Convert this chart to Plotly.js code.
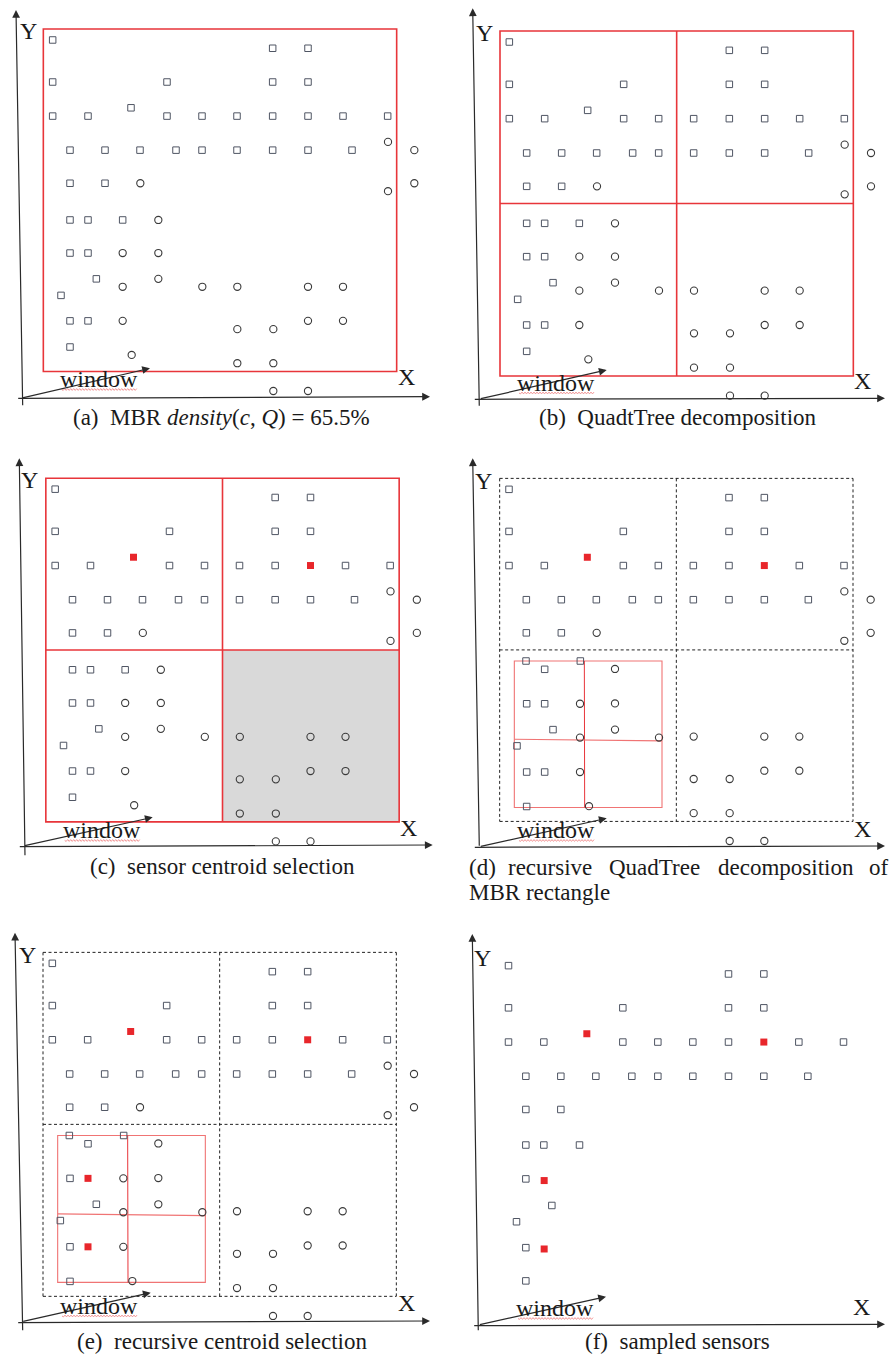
<!DOCTYPE html>
<html><head><meta charset="utf-8">
<script src="https://cdn.plot.ly/plotly-3.0.1.min.js"></script>
<style>html,body{margin:0;padding:0;background:#fff}#chart{width:895px;height:1355px}</style>
</head><body><div id="chart"></div>
<script>
// ---------- DATA (sensor positions, in a common frame) ----------
// squares of the upper half (shared by all panels)
const sqX = [178,178,521,413,178,284,521,626,230,335,440,548,626,230,335, 838,944,838,944,731,838,944,1049,1183,731,838,944,1076];
const sqY = [126,253,253,331,356,356,356,356,459,459,459,459,459,559,559, 151,151,253,253,356,356,356,356,356,459,459,459,459];
// circles of the upper half
const upCircX = [441,1184,1263,1263,1184];
const upCircY = [559,434,459,559,583];
// lower-left quadrant, layout used in (a)(b)(c)
const llSqX_A = [230,284,388,230,284,309,203,230,284,230];
const llSqY_A = [670,670,670,770,770,848,898,975,975,1054];
const llCircX_A = [495,388,495,495,388,627,388,415];
const llCircY_A = [670,770,770,848,872,872,975,1078];
// lower-left quadrant, layout used in (d)(e)
const llSqX_D = [229,285,392,231,285,310,202,231,285,231];
const llSqY_D = [644,669,644,773,773,851,900,979,979,1083];
const llCircX_D = [496,391,496,496,391,628,391,418];
const llCircY_D = [668,773,772,851,875,875,979,1082];
// lower-left quadrant, layout used in (f)
const llSqX_F = [230,284,391,230,284,308,202,230,284,230];
const llSqY_F = [666,666,666,768,768,848,897,975,975,1075];
// lower-right circles
const lrCircX = [732,944,1049,944,1049,732,840,732,840,840,944];
const lrCircY = [872,872,872,975,975,1000,1000,1103,1103,1187,1187];
// selected centroids
const topCentX = [413,944];
const topCentY = [331,356];
const llCentX = [285,285];
const llCentY = [773,979];

// ---------- LAYOUT CONFIG ----------
const W = 895, H = 1355;
const FONT = 'Liberation Serif';
const TXT = '#1a1a1a';
const MBR = {x0:150, x1:1210, y0:93, y1:1128, mx:680, my:610.5};
const SUB = {x0:194, x1:637, y0:644, y1:1086, mx:404, myL:880, myR:885};

const panels = [
 {offX:0, offY:0, h:430, dx:-20, ky:0.9925, dy:-5.1, ll:'A', circles:true, topC:false, llC:false, frame:'mbr',
  yAx:[22.7,406.7,16,10], xAx:[16.7,398.3,430,396.7], win:[21,398.3,150,368.3], yLab:[28,31], xLab:[406.7,377], winTxt:[98.7,379],
  cap:[221.5,417,'(a)\u2002MBR <i>density</i>(<i>c</i>, <i>Q</i>) = 65.5%']},
 {offX:450, offY:0, h:430, dx:0, ky:1, dy:0, ll:'A', circles:true, topC:false, llC:false, frame:'quad',
  yAx:[479.3,407.3,472.7,8.3], xAx:[473.3,399.3,885,398.3], win:[479.3,399,606.7,370], yLab:[484,33], xLab:[862.7,381], winTxt:[556,382.5],
  cap:[677.5,417,'(b)\u2002QuadtTree decomposition']},
 {offX:0, offY:450, h:430, dx:-12.5, ky:0.996, dy:-8, ll:'A', circles:true, topC:true, llC:false, frame:'quadGray',
  yAx:[25,856.7,19.3,458.3], xAx:[18.3,846.7,432.7,845], win:[23.3,846,152.7,817.3], yLab:[29,480], xLab:[408.7,828], winTxt:[101.7,830],
  cap:[222,866,'(c)\u2002sensor centroid selection']},
 {offX:450, offY:450, h:430, dx:-1, ky:0.9943, dy:-7.3, ll:'D', circles:true, topC:true, llC:false, frame:'sub',
  yAx:[479.3,847.3,472.7,458.3], xAx:[473.3,847.3,885,846], win:[479.3,846.7,606.7,818.3], yLab:[483,481.5], xLab:[862.7,828.5], winTxt:[556,830],
  cap:null},
 {offX:0, offY:920, h:435, dx:-21, ky:0.997, dy:4.4, ll:'D', circles:true, topC:true, llC:true, frame:'sub',
  yAx:[22.7,1331.7,15,932.7], xAx:[16.7,1322.7,430,1321], win:[21.7,1321.7,150.7,1292.7], yLab:[27,955], xLab:[406.7,1303], winTxt:[99,1305.5],
  cap:[222,1341.5,'(e)\u2002recursive centroid selection']},
 {offX:450, offY:920, h:435, dx:-2.5, ky:0.9965, dy:11.4, ll:'F', circles:false, topC:true, llC:true, frame:'none',
  yAx:[478.3,1331.7,472.3,934], xAx:[472.7,1325.7,885,1324.3], win:[478.3,1325,606,1296.7], yLab:[482,958], xLab:[861.7,1307], winTxt:[555,1308],
  cap:[677,1341.5,'(f)\u2002sampled sensors']}
];

const captionD = [[466.7,'(d)'],[506,'recursive'],[606.7,'QuadTree'],[716,'decomposition'],[866.7,'of']];

const SQ_COLOR = '#4f5563', CI_COLOR = '#3a3a3a', RED = '#e8262b', FRAME_RED = '#e8353a', SUB_RED = '#f07474';

// ---------- BUILD ----------
const traces = [], shapes = [], annotations = [];
const layout = {
  width: W, height: H, margin:{l:0,r:0,t:0,b:0}, paper_bgcolor:'#ffffff', plot_bgcolor:'rgba(0,0,0,0)',
  showlegend:false, hovermode:false, font:{family:FONT, color:TXT}
};

function notNear(xs, ys, cx, cy) {
  const ox = [], oy = [];
  for (let i = 0; i < xs.length; i++) {
    let near = false;
    for (let j = 0; j < cx.length; j++) if (Math.abs(xs[i]-cx[j]) < 8 && Math.abs(ys[i]-cy[j]) < 8) near = true;
    if (!near) { ox.push(xs[i]); oy.push(ys[i]); }
  }
  return [ox, oy];
}
const px = x => x / W, py = y => 1 - y / H;

function arrow(seg) {
  const [tx, ty, hx, hy] = seg;
  annotations.push({xref:'paper', yref:'paper', x:px(hx), y:py(hy), ax:tx-hx, ay:ty-hy, axref:'pixel', ayref:'pixel',
    text:'', showarrow:true, arrowhead:2, arrowsize:1.3, arrowwidth:1.2, arrowcolor:'#2a2a2a', standoff:0, startstandoff:0});
}
function label(x, y, text, size, anchor) {
  annotations.push({xref:'paper', yref:'paper', x:px(x), y:py(y), text:text, showarrow:false,
    xanchor:anchor || 'center', yanchor:'middle', font:{family:FONT, size:size, color:TXT}});
}

panels.forEach((p, i) => {
  const n = i + 1, xa = 'x' + (n > 1 ? n : ''), ya = 'y' + (n > 1 ? n : '');
  const xk = 'xaxis' + (n > 1 ? n : ''), yk = 'yaxis' + (n > 1 ? n : '');
  layout[xk] = {domain:[p.offX / W, (p.offX + 445) / W], range:[-p.dx, 1335 - p.dx], visible:false, fixedrange:true, anchor:ya};
  layout[yk] = {domain:[1 - (p.offY + p.h) / H, 1 - p.offY / H], range:[(3 * p.h - p.dy) / p.ky, -p.dy / p.ky], visible:false, fixedrange:true, anchor:xa};

  const llSqX = p.ll === 'A' ? llSqX_A : p.ll === 'D' ? llSqX_D : llSqX_F;
  const llSqY = p.ll === 'A' ? llSqY_A : p.ll === 'D' ? llSqY_D : llSqY_F;
  const llCiX = p.ll === 'A' ? llCircX_A : llCircX_D;
  const llCiY = p.ll === 'A' ? llCircY_A : llCircY_D;

  let sx = sqX.concat(llSqX), sy = sqY.concat(llSqY);
  let cx = [], cy = [];
  if (p.topC) { cx = cx.concat(topCentX); cy = cy.concat(topCentY); }
  if (p.llC) { cx = cx.concat(llCentX); cy = cy.concat(llCentY); }
  [sx, sy] = notNear(sx, sy, cx, cy);

  const L = (x0, y0, x1, y1, color, width, dash) => shapes.push({type:'line', xref:xa, yref:ya, x0, y0, x1, y1, layer:'below', line:{color, width, dash: dash || 'solid'}});
  if (p.frame === 'quadGray') {
    shapes.push({type:'rect', xref:xa, yref:ya, x0:MBR.mx, x1:MBR.x1, y0:MBR.my, y1:MBR.y1, layer:'below', fillcolor:'#d9d9d9', line:{width:0}});
  }
  if (p.frame === 'mbr' || p.frame === 'quad' || p.frame === 'quadGray') {
    shapes.push({type:'rect', xref:xa, yref:ya, x0:MBR.x0, x1:MBR.x1, y0:MBR.y0, y1:MBR.y1, layer:'below', line:{color:FRAME_RED, width:1.6}});
    if (p.frame !== 'mbr') {
      L(MBR.mx, MBR.y0, MBR.mx, MBR.y1, FRAME_RED, 1.6);
      L(MBR.x0, MBR.my, MBR.x1, MBR.my, FRAME_RED, 1.6);
    }
  }
  if (p.frame === 'sub') {
    const d = '3px,2.5px';
    L(MBR.x0, MBR.y0, MBR.x1, MBR.y0, '#222', 1, d);
    L(MBR.x0, MBR.y1, MBR.x1, MBR.y1, '#222', 1, d);
    L(MBR.x0, MBR.y0, MBR.x0, MBR.y1, '#222', 1, d);
    L(MBR.x1, MBR.y0, MBR.x1, MBR.y1, '#222', 1, d);
    L(MBR.mx, MBR.y0, MBR.mx, MBR.y1, '#222', 1, d);
    L(MBR.x0, MBR.my, MBR.x1, MBR.my, '#222', 1, d);
    shapes.push({type:'rect', xref:xa, yref:ya, x0:SUB.x0, x1:SUB.x1, y0:SUB.y0, y1:SUB.y1, layer:'below', line:{color:SUB_RED, width:1.1}});
    L(SUB.mx, SUB.y0, SUB.mx + 1, SUB.y1, FRAME_RED, 1);
    L(SUB.x0, SUB.myL, SUB.x1, SUB.myR, SUB_RED, 1.1);
  }

  traces.push({type:'scatter', mode:'markers', x:sx, y:sy, xaxis:xa, yaxis:ya, cliponaxis:false, hoverinfo:'skip',
    marker:{symbol:'square-open', size:6.5, color:SQ_COLOR, line:{color:SQ_COLOR, width:1}}});
  if (p.circles) {
    traces.push({type:'scatter', mode:'markers', x:upCircX.concat(llCiX, lrCircX), y:upCircY.concat(llCiY, lrCircY), xaxis:xa, yaxis:ya,
      cliponaxis:false, hoverinfo:'skip', marker:{symbol:'circle-open', size:7.2, color:CI_COLOR, line:{color:CI_COLOR, width:1.1}}});
  }
  if (cx.length) {
    traces.push({type:'scatter', mode:'markers', x:cx, y:cy, xaxis:xa, yaxis:ya, cliponaxis:false, hoverinfo:'skip',
      marker:{symbol:'square', size:7, color:RED, line:{width:0}}});
  }

  arrow(p.yAx); arrow(p.xAx); arrow(p.win);
  label(p.yLab[0], p.yLab[1], 'Y', 24);
  label(p.xLab[0], p.xLab[1], 'X', 24);
  label(p.winTxt[0], p.winTxt[1], 'window', 24);
  const wx0 = p.winTxt[0] - 37, wx1 = p.winTxt[0] + 38, wy = p.winTxt[1] + 10.5;
  let path = 'M' + px(wx0) + ',' + py(wy);
  let k = 0;
  for (let x = wx0 + 1.5; x <= wx1; x += 1.5) { k++; path += ' L' + px(x) + ',' + py(wy + (k % 2 ? 0.9 : -0.9)); }
  shapes.push({type:'path', xref:'paper', yref:'paper', path:path, line:{color:'#ef8a8a', width:0.9}});

  if (p.cap) label(p.cap[0], p.cap[1], p.cap[2], 23);
});

captionD.forEach(w => label(w[0], 867, w[1], 23, 'left'));
label(466.7, 892, 'MBR rectangle', 23, 'left');

layout.shapes = shapes;
layout.annotations = annotations;
Plotly.newPlot('chart', traces, layout, {staticPlot:true, displayModeBar:false});
</script></body></html>
